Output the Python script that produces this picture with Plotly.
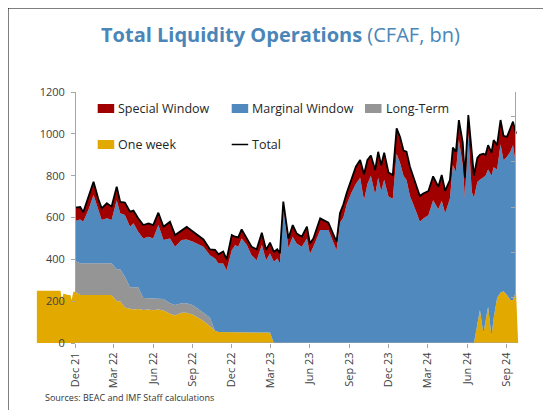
import plotly.graph_objects as go

# ---------------- data ----------------
dates = [
    "2021-12-01", "2021-12-13", "2021-12-20", "2022-01-01", "2022-01-13", "2022-01-24",
    "2022-02-01", "2022-02-13", "2022-02-24", "2022-03-08", "2022-03-16", "2022-03-27",
    "2022-04-08", "2022-04-16", "2022-04-27", "2022-05-09", "2022-05-21", "2022-06-01",
    "2022-06-13", "2022-06-25", "2022-07-10", "2022-07-22", "2022-08-06", "2022-08-18",
    "2022-09-02", "2022-09-26", "2022-10-11", "2022-10-23", "2022-10-31", "2022-11-11",
    "2022-11-19", "2022-12-01", "2022-12-09", "2022-12-16", "2022-12-24", "2023-01-05",
    "2023-01-16", "2023-01-28", "2023-02-09", "2023-02-19", "2023-02-28", "2023-03-09",
    "2023-03-17", "2023-03-23", "2023-03-31", "2023-04-12", "2023-04-22", "2023-05-01",
    "2023-05-13", "2023-05-25", "2023-06-01", "2023-06-09", "2023-06-25", "2023-07-14",
    "2023-07-26", "2023-08-02", "2023-08-10", "2023-08-18", "2023-08-26", "2023-09-06",
    "2023-09-16", "2023-09-26", "2023-10-05", "2023-10-13", "2023-10-21", "2023-10-31",
    "2023-11-07", "2023-11-14", "2023-11-21", "2023-12-01", "2023-12-11", "2023-12-20",
    "2023-12-28", "2024-01-05", "2024-01-12", "2024-01-20", "2024-02-05", "2024-02-12",
    "2024-02-20", "2024-03-03", "2024-03-14", "2024-03-26", "2024-04-03", "2024-04-11",
    "2024-04-22", "2024-04-29", "2024-05-06", "2024-05-13", "2024-05-22", "2024-05-27",
    "2024-06-04", "2024-06-12", "2024-06-17", "2024-06-25", "2024-07-01", "2024-07-09",
    "2024-07-14", "2024-07-20", "2024-07-28", "2024-08-02", "2024-08-10", "2024-08-18",
    "2024-08-25", "2024-09-02", "2024-09-10", "2024-09-16", "2024-09-23",
]

special_window = [
    64, 59, 45, 60, 64, 50, 56, 72, 64, 64, 55, 59,
    72, 61, 64, 64, 64, 64, 59, 64, 80, 56, 48, 60,
    48, 35, 28, 41, 44, 57, 52, 72, 40, 45, 43, 32,
    40, 52, 59, 49, 52, 48, 44, 48, 24, 46, 56, 48,
    48, 56, 51, 40, 56, 35, 39, 40, 45, 63, 55, 63,
    83, 85, 124, 115, 96, 117, 124, 125, 130, 115, 113, 121,
    125, 120, 136, 140, 127, 123, 120, 116, 114, 107, 123, 107,
    89, 84, 95, 96, 108, 95, 90, 168, 105, 115, 120, 115,
    99, 116, 110, 130, 116, 116, 116, 96, 115, 112, 149,
]

marginal_window = [
    191, 210, 199, 255, 326, 259, 207, 215, 207, 331, 268, 295,
    290, 306, 266, 285, 293, 288, 352, 282, 310, 278, 302, 305,
    304, 315, 299, 346, 328, 328, 296, 392, 416, 408, 448, 416,
    368, 344, 416, 344, 378, 388, 404, 380, 652, 454, 508, 476,
    460, 500, 425, 460, 540, 540, 476, 444, 575, 600, 665, 720,
    760, 790, 683, 760, 800, 710, 790, 725, 780, 700, 690, 905,
    860, 800, 779, 703, 620, 580, 595, 611, 683, 640, 680, 620,
    690, 850, 819, 970, 850, 695, 1000, 723, 695, 680, 622, 743,
    700, 657, 768, 720, 615, 708, 627, 661, 710, 741, 604,
]

long_term = [
    147, 152, 152, 152, 152, 152, 152, 152, 152, 152, 152, 147,
    101, 106, 104, 57, 55, 55, 52, 55, 50, 50, 45, 45,
    45, 40, 41, 0, 0, 0, 0, 0, 0, 0, 0, 0,
    0, 0, 0, 0, 0, 0, 0, 0, 0, 0, 0, 0,
    0, 0, 0, 0, 0, 0, 0, 0, 0, 0, 0, 0,
    0, 0, 0, 0, 0, 0, 0, 0, 0, 0, 0, 0,
    0, 0, 0, 0, 0, 0, 0, 0, 0, 0, 0, 0,
    0, 0, 0, 0, 0, 0, 0, 0, 0, 0, 0, 0,
    0, 0, 0, 0, 0, 0, 0, 0, 0, 0, 0,
]

one_week = [
    245, 229, 229, 229, 229, 229, 229, 229, 229, 200, 200, 170,
    165, 160, 162, 158, 160, 157, 160, 155, 140, 132, 145, 145,
    135, 105, 80, 58, 52, 52, 52, 52, 52, 52, 52, 52,
    52, 52, 52, 52, 50, 0, 0, 0, 0, 0, 0, 0,
    0, 0, 0, 0, 0, 0, 0, 0, 0, 0, 0, 0,
    0, 0, 0, 0, 0, 0, 0, 0, 0, 0, 0, 0,
    0, 0, 0, 0, 0, 0, 0, 0, 0, 0, 0, 0,
    0, 0, 0, 0, 0, 0, 0, 0, 0, 90, 158, 47,
    100, 173, 32, 120, 215, 242, 247, 229, 205, 205, 247,
]

# one-week series as drawn before the first date and after the last one
one_week_pre_dates = ["2021-09-03", "2021-10-28", "2021-10-31", "2021-11-04", "2021-11-14",
                      "2021-11-20", "2021-11-23", "2021-11-27", "2021-12-01"]
one_week_pre = [250, 250, 205, 237, 229, 229, 205, 245, 245]
one_week_tail_dates = ["2024-09-23", "2024-09-28"]
one_week_tail = [247, 0]

tick_dates = ["2021-12-01", "2022-03-01", "2022-06-01", "2022-09-01", "2022-12-01", "2023-03-01",
              "2023-06-01", "2023-09-01", "2023-12-01", "2024-03-01", "2024-06-01", "2024-09-01"]
tick_labels = ["Dec 21", "Mar 22", "Jun 22", "Sep 22", "Dec 22", "Mar 23",
               "Jun 23", "Sep 23", "Dec 23", "Mar 24", "Jun 24", "Sep 24"]

# ---------------- styling ----------------
FONT = "Open Sans"
C_YEL = "#E2A900"
C_GRY = "#959595"
C_BLU = "#4F89BD"
C_RED = "#A00000"
AX = "#A6A6A6"

# stacked levels
lvl1 = list(one_week)
lvl2 = [a + b for a, b in zip(lvl1, long_term)]
lvl3 = [a + b for a, b in zip(lvl2, marginal_window)]
total = [a + b for a, b in zip(lvl3, special_window)]

fig = go.Figure()
fig.add_trace(go.Scatter(x=one_week_pre_dates, y=one_week_pre, mode="lines", fill="tozeroy",
                         line=dict(width=0), fillcolor=C_YEL, showlegend=False, hoverinfo="skip"))
fig.add_trace(go.Scatter(x=one_week_tail_dates, y=one_week_tail, mode="lines", fill="tozeroy",
                         line=dict(width=0), fillcolor=C_YEL, showlegend=False, hoverinfo="skip"))
fig.add_trace(go.Scatter(x=dates, y=lvl1, name="One week", mode="lines", fill="tozeroy",
                         line=dict(width=0), fillcolor=C_YEL, showlegend=False))
fig.add_trace(go.Scatter(x=dates, y=lvl2, name="Long-Term", mode="lines", fill="tonexty",
                         line=dict(width=0), fillcolor=C_GRY, showlegend=False))
fig.add_trace(go.Scatter(x=dates, y=lvl3, name="Marginal Window", mode="lines", fill="tonexty",
                         line=dict(width=0), fillcolor=C_BLU, showlegend=False))
fig.add_trace(go.Scatter(x=dates, y=total, name="Special Window", mode="lines", fill="tonexty",
                         line=dict(width=0), fillcolor=C_RED, showlegend=False))
fig.add_trace(go.Scatter(x=dates, y=total, name="Total", mode="lines",
                         line=dict(width=1.8, color="black"), showlegend=False))
# secondary (unlabelled) right axis
fig.add_trace(go.Scatter(x=[], y=[], yaxis="y2", showlegend=False, hoverinfo="skip"))

# page offset (body margin of the html page)
OFF = 8
FW, FH = 551 - OFF, 410 - OFF
L, T, W, H = 36 - OFF, 92 - OFF, 483, 251


def px(x):
    """reference page x (pixels) -> paper fraction"""
    return (x - OFF - L) / W


def py(y):
    """reference page y (pixels) -> paper fraction"""
    return (T + H - (y - OFF)) / H


fig.update_layout(
    width=FW, height=FH,
    margin=dict(l=L, r=FW - L - W, t=T, b=FH - T - H),
    paper_bgcolor="white", plot_bgcolor="white",
    font=dict(family=FONT, color="#404040"),
    showlegend=False,
    xaxis=dict(range=["2021-09-01", "2024-09-30"], tickmode="array", tickvals=tick_dates,
               ticktext=tick_labels, tickangle=-90, ticks="outside", ticklen=4, tickcolor=AX,
               tickfont=dict(size=11, color="#404040"), showgrid=False, zeroline=False,
               showline=False),
    yaxis=dict(range=[0, 1200], dtick=200, anchor="free", position=px(75), ticks="outside",
               ticklen=4, tickcolor=AX, showline=True, linecolor=AX, linewidth=1,
               showgrid=False, zeroline=False, tickfont=dict(size=11, color="#404040"),
               ticklabelstandoff=4),
    yaxis2=dict(range=[0, 1108], dtick=200, overlaying="y", side="right", anchor="free",
                position=px(515), ticks="inside", ticklen=4, tickcolor=AX, showline=True,
                linecolor=AX, linewidth=1, showgrid=False, zeroline=False,
                showticklabels=False),
)

shapes = [
    # x axis line
    dict(type="line", xref="x", yref="y", x0="2021-12-01", x1="2024-09-22", y0=0, y1=0,
         line=dict(color=AX, width=1)),
    # outer frame (right and bottom edges fall outside the picture)
    dict(type="rect", xref="paper", yref="paper", x0=px(7.5), x1=px(580), y0=py(440), y1=py(7.5),
         line=dict(color="black", width=2), fillcolor="rgba(0,0,0,0)"),
]
annotations = [
    dict(xref="paper", yref="paper", x=px(280), y=py(35), xanchor="center", yanchor="middle",
         showarrow=False,
         text="<b>Total Liquidity Operations</b> (CFAF, bn)",
         font=dict(family=FONT, size=20, color="#4A86B8")),
    dict(xref="paper", yref="paper", x=px(43), y=py(397), xanchor="left", yanchor="middle",
         showarrow=False, text="Sources: BEAC and IMF Staff calculations",
         font=dict(family=FONT, size=9, color="#333333")),
]

legend_items = [
    ("Special Window", C_RED, 97.7, 108.5, "rect"),
    ("Marginal Window", C_BLU, 231.7, 108.5, "rect"),
    ("Long-Term", C_GRY, 365.0, 108.5, "rect"),
    ("One week", C_YEL, 97.7, 144.5, "rect"),
    ("Total", "black", 231.7, 144.5, "line"),
]
for label, col, x0, yc, kind in legend_items:
    if kind == "rect":
        shapes.append(dict(type="rect", xref="paper", yref="paper", x0=px(x0), x1=px(x0 + 16.5),
                           y0=py(yc + 4.5), y1=py(yc - 4.5), line=dict(width=0), fillcolor=col))
    else:
        shapes.append(dict(type="line", xref="paper", yref="paper", x0=px(x0), x1=px(x0 + 16.5),
                           y0=py(yc), y1=py(yc), line=dict(color=col, width=1.5)))
    annotations.append(dict(xref="paper", yref="paper", x=px(x0 + 18.5), y=py(yc), xanchor="left",
                            yanchor="middle", showarrow=False, text=label,
                            font=dict(family=FONT, size=12.5, color="#262626")))

fig.update_layout(shapes=shapes, annotations=annotations)
fig.write_html("out.html")
